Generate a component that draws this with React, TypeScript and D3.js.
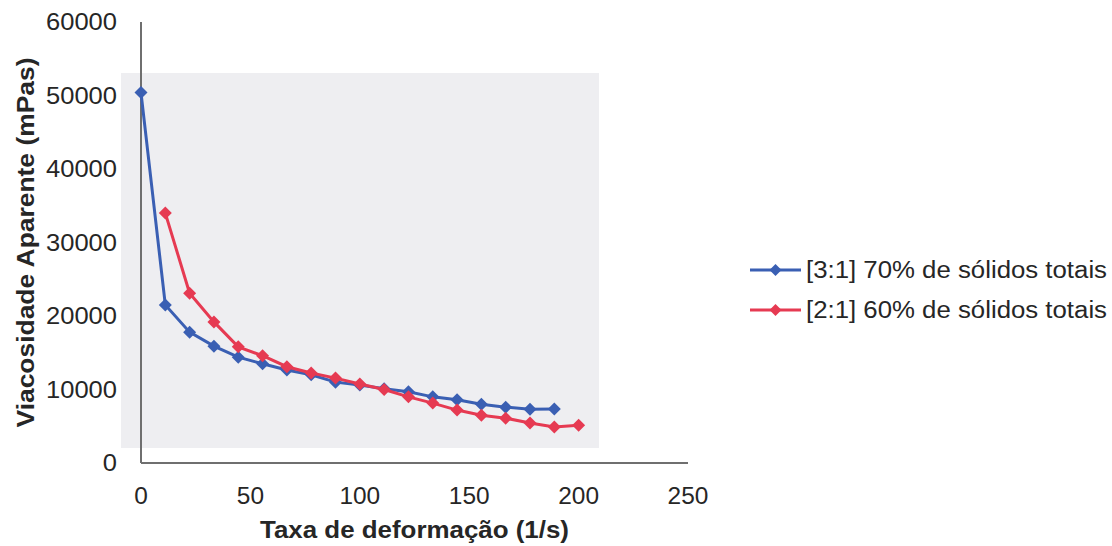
import React from "react";
import * as d3 from "d3";

const step = 200 / 18;
const blueX = d3.range(0, 18).map((k) => k * step);
const blueY = [50400, 21500, 17800, 15900, 14400, 13500, 12650, 12000, 11000, 10600, 10100, 9700, 9000, 8600, 8000, 7600, 7300, 7350];
const redX = d3.range(1, 19).map((k) => k * step);
const redY = [34000, 23100, 19200, 15800, 14600, 13100, 12250, 11550, 10750, 10000, 9000, 8150, 7200, 6500, 6100, 5450, 4900, 5150];
const xTicks = [0, 50, 100, 150, 200, 250];
const yTicks = [0, 10000, 20000, 30000, 40000, 50000, 60000];
const seriesNames = ["[3:1] 70% de sólidos totais", "[2:1] 60% de sólidos totais"];
const seriesColors = ["#3a5fb3", "#e63a52"];

export default function App() {
  const W = 1112, H = 546;
  const x = d3.scaleLinear().domain([0, 250]).range([141, 688]);
  const y = d3.scaleLinear().domain([0, 60000]).range([463, 22]);
  const line = d3.line<[number, number]>().x((d) => x(d[0])).y((d) => y(d[1]));
  const series = [
    { pts: blueX.map((v, i) => [v, blueY[i]] as [number, number]), color: seriesColors[0] },
    { pts: redX.map((v, i) => [v, redY[i]] as [number, number]), color: seriesColors[1] },
  ];
  const diamond = (cx: number, cy: number, r: number) =>
    `M${cx},${cy - r}L${cx + r},${cy}L${cx},${cy + r}L${cx - r},${cy}Z`;
  const font = "'Liberation Sans', Arial, sans-serif";
  const txt = "#262626";
  return (
    <svg width={W} height={H} style={{ position: "absolute", left: 0, top: 0, background: "#fff" }} fontFamily={font}>
      <rect x={121} y={73} width={478} height={375} fill="#eeeef1" />
      <line x1={x(0)} x2={x(0)} y1={y(0)} y2={y(60000)} stroke="#6f6f6f" strokeWidth={2} />
      <line x1={x(0)} x2={x(250)} y1={y(0)} y2={y(0)} stroke="#6f6f6f" strokeWidth={2} />
      {yTicks.map((t) => (
        <text key={t} x={117} y={y(t)} dy="0.35em" textAnchor="end" fontSize={24} fill={txt}
          textLength={String(t).length * 14.2} lengthAdjust="spacingAndGlyphs">
          {t}
        </text>
      ))}
      {xTicks.map((t) => (
        <text key={t} x={x(t)} y={504} textAnchor="middle" fontSize={24} fill={txt}
          textLength={String(t).length * 13.6} lengthAdjust="spacingAndGlyphs">
          {t}
        </text>
      ))}
      <text x={x(125)} y={538} textAnchor="middle" fontSize={23} fontWeight="bold" fill={txt}
        textLength={309} lengthAdjust="spacingAndGlyphs">
        Taxa de deformação (1/s)
      </text>
      <text
        transform={`translate(34,${(y(0) + y(60000)) / 2}) rotate(-90)`}
        textAnchor="middle"
        fontSize={23}
        fontWeight="bold"
        fill={txt}
        textLength={370}
        lengthAdjust="spacingAndGlyphs"
      >
        Viacosidade Aparente (mPas)
      </text>
      {series.map((s, si) => (
        <g key={si}>
          <path d={line(s.pts) || ""} fill="none" stroke={s.color} strokeWidth={3} />
          {s.pts.map((p, i) => (
            <path key={i} d={diamond(x(p[0]), y(p[1]), 6.5)} fill={s.color} />
          ))}
        </g>
      ))}
      {seriesNames.map((n, i) => (
        <g key={n} transform={`translate(0,${270 + i * 40})`}>
          <line x1={750} x2={801} y1={0} y2={0} stroke={seriesColors[i]} strokeWidth={3} />
          <path d={diamond(775.5, 0, 6)} fill={seriesColors[i]} />
          <text x={806} y={0} dy="0.36em" fontSize={23} fill={txt}
            textLength={301} lengthAdjust="spacingAndGlyphs">
            {n}
          </text>
        </g>
      ))}
    </svg>
  );
}
